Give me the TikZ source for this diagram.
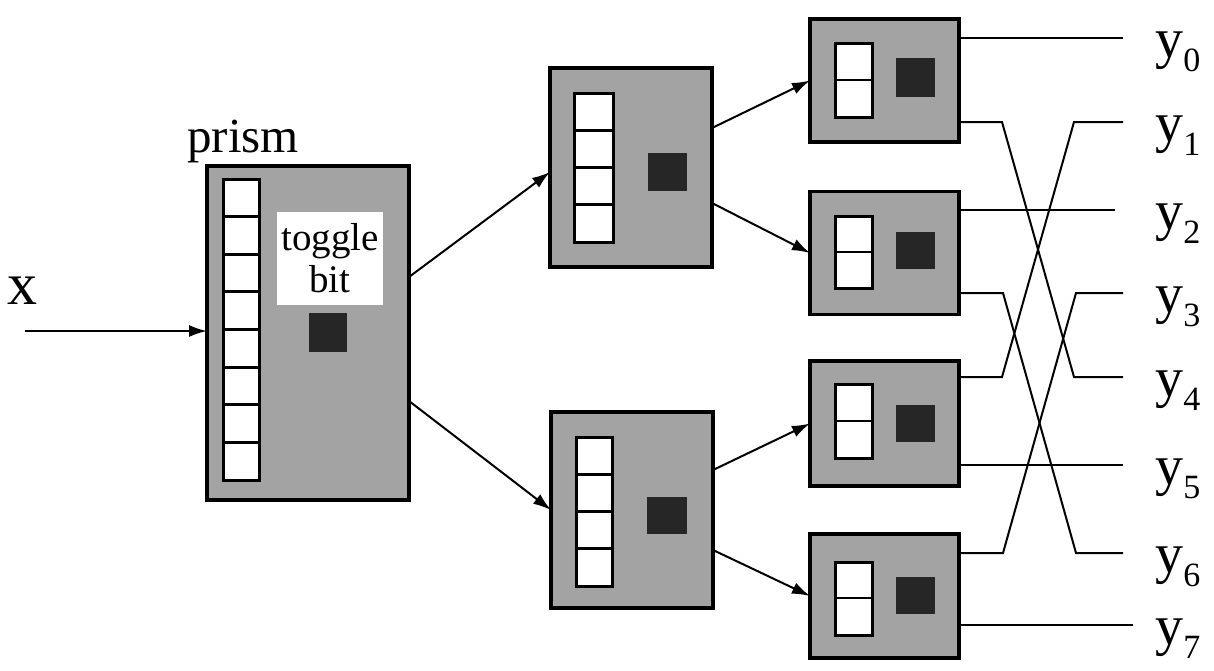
\documentclass[tikz,border=0pt]{standalone}
\usepackage{fontspec}
\setmainfont{Liberation Serif}
\usetikzlibrary{arrows.meta,calc}
\newcommand\ysub[1]{\raisebox{-7pt}{\fontsize{17}{17}\selectfont #1}}
\begin{document}
\begin{tikzpicture}[x=0.5pt,y=-0.5pt,
  unit/.style={draw=black, line width=1.6pt, fill=black!36, inner sep=0pt, outer sep=0pt},
  reg/.style={draw=black, line width=1.5pt, fill=white},
  regline/.style={line width=1.4pt},
  bitsq/.style={fill=black!85},
  conn/.style={line width=1pt, -{Latex[length=9pt,width=6pt]}},
  wire/.style={line width=1pt},
  ylab/.style={anchor=base west, inner sep=0pt, font=\fontsize{28}{28}\selectfont}]
\useasboundingbox (0,0) rectangle (1214,670);

% prism
\node[unit, minimum width=101pt, minimum height=167pt] (prism) at (308,333) {};
\draw[reg] (223,179) rectangle (259,480);
\foreach \i in {1,...,7} \draw[regline] (223,{179+\i*37.625}) -- (259,{179+\i*37.625});
\node[fill=white, minimum width=53pt, minimum height=46.5pt, inner sep=0pt, align=center,
      font=\fontsize{19.5}{21}\selectfont] (tog) at (330,258.5) {toggle\\bit};
\fill[bitsq] (309,313) rectangle (347,352);
\node[anchor=base west, inner sep=0pt, font=\fontsize{24.5}{24.5}\selectfont] (plab) at (187,152) {prism};
\node[anchor=base west, inner sep=0pt, font=\fontsize{30}{30}\selectfont] (xlab) at (7,304) {x};

% middle units
\node[unit, minimum width=81pt, minimum height=99.5pt] (M1) at (631,167.5) {};
\draw[reg] (574,93) rectangle (613,242);
\foreach \i in {1,2,3} \draw[regline] (574,{93+\i*37.25}) -- (613,{93+\i*37.25});
\fill[bitsq] (648,153) rectangle (687,191);

\node[unit, minimum width=81pt, minimum height=98pt] (M2) at (632,510) {};
\draw[reg] (576,437) rectangle (612,586);
\foreach \i in {1,2,3} \draw[regline] (576,{437+\i*37.25}) -- (612,{437+\i*37.25});
\fill[bitsq] (647,497) rectangle (687,534);

% small units
\node[unit, minimum width=74.5pt, minimum height=61.5pt] (S1) at (884.5,80.5) {};
\node[unit, minimum width=74.5pt, minimum height=61.5pt] (S2) at (884.5,253) {};
\node[unit, minimum width=74.5pt, minimum height=62.5pt] (S3) at (884.5,423.5) {};
\node[unit, minimum width=74.5pt, minimum height=62pt] (S4) at (884.5,596) {};
\foreach \t/\m/\b/\dt/\db in {43/80/117/58/97, 216/252/288/232/269, 384/421/458/405/442, 562/598/635/577/614}{
  \draw[reg] (835,\t) rectangle (872,\b);
  \draw[regline] (835,\m) -- (872,\m);
  \fill[bitsq] (896,\dt) rectangle (935,\db);
}

% connectors
\coordinate (in) at (25,331);
\draw[conn] (in) -- (in -| prism.west);
\draw[conn] ([yshift=28pt]prism.east) -- ([yshift=-2.25pt]M1.west);
\draw[conn] ([yshift=-34pt]prism.east) -- (M2.west);
\draw[conn] ([yshift=19.75pt]M1.east) -- (S1.west);
\draw[conn] ([yshift=-17.75pt]M1.east) -- (S2.west);
\draw[conn] ([yshift=20pt]M2.east) -- (S3.west);
\draw[conn] ([yshift=-20pt]M2.east) -- (S4.west);

% outputs
\coordinate (e0) at (1123,38);
\coordinate (e1) at (1123,122);
\coordinate (e2) at (1115,210);
\coordinate (e3) at (1123,293);
\coordinate (e4) at (1123,377);
\coordinate (e5) at (1123,465);
\coordinate (e6) at (1123,553);
\coordinate (e7) at (1133,625);

\draw[wire] (S1.east |- e0) -- (e0);
\draw[wire] (S1.east |- e1) -- (1002,122) -- (1074,377) -- (e4);
\draw[wire] (S3.east |- e4) -- (1002,377) -- (1074,122) -- (e1);
\draw[wire] (S2.east |- e2) -- (e2);
\draw[wire] (S2.east |- e3) -- (1003,293) -- (1076,553) -- (e6);
\draw[wire] (S4.east |- e6) -- (1003,553) -- (1076,293) -- (e3);
\draw[wire] (S3.east |- e5) -- (e5);
\draw[wire] (S4.east |- e7) -- (e7);

\node[ylab] (y0) at (1155,57) {y\ysub{0}};
\node[ylab] (y1) at (1155,141) {y\ysub{1}};
\node[ylab] (y2) at (1155,229) {y\ysub{2}};
\node[ylab] (y3) at (1155,312) {y\ysub{3}};
\node[ylab] (y4) at (1155,396) {y\ysub{4}};
\node[ylab] (y5) at (1155,484) {y\ysub{5}};
\node[ylab] (y6) at (1155,572) {y\ysub{6}};
\node[ylab] (y7) at (1155,644) {y\ysub{7}};
\end{tikzpicture}
\end{document}
